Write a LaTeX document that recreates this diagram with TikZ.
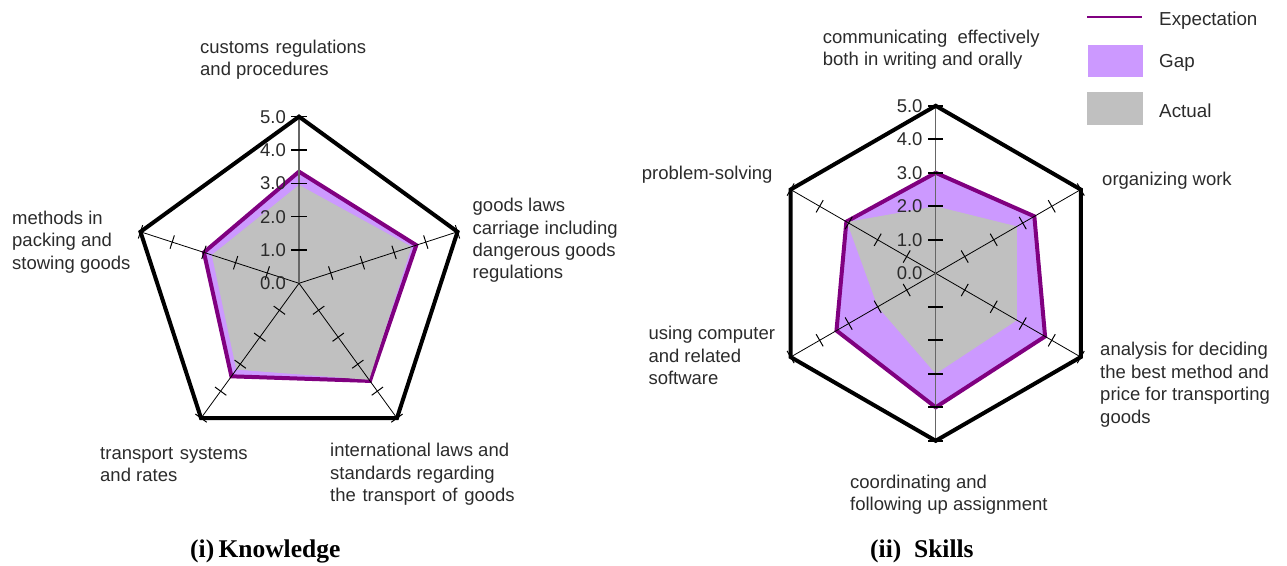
\documentclass[tikz,border=0pt]{standalone}
\usepackage{fontspec}
\setmainfont{Liberation Sans}
\newfontfamily\titlefont{Liberation Serif}
\definecolor{expline}{HTML}{800080}
\definecolor{gapfill}{HTML}{CC99FF}
\definecolor{actfill}{HTML}{C0C0C0}
\definecolor{labeltext}{HTML}{2B2B2B}

% left-aligned block of lines whose baseline is that of its first line
\newcommand\linesblock[1]{\begin{tabular}[t]{@{}l@{}}#1\end{tabular}}
% slightly widened word gap
\newcommand\wsp{\ \hspace{1.5pt}}

\tikzset{
  axislabel/.style={font=\fontsize{18.5}{22.4}\selectfont, text=labeltext,
    inner sep=0pt, anchor=base west},
  numlabel/.style={font=\fontsize{18.5}{18}\selectfont, text=labeltext,
    inner sep=0pt, anchor=east, xshift=-13pt},
  legendtext/.style={font=\fontsize{18.8}{20}\selectfont, text=labeltext,
    inner sep=0pt, anchor=west},
  charttitle/.style={font=\titlefont\bfseries\fontsize{25.5}{28}\selectfont,
    inner sep=0pt, anchor=west},
  outline/.style={draw=black, line width=4pt, line join=miter},
  spoke/.style={draw=black, line width=0.8pt},
  vaxis/.style={draw=black!60, line width=1.2pt},
  tickmark/.style={draw=black, line width=1pt},
  vtick/.style={draw=black, line width=1.6pt},
  expect/.style={draw=expline, line width=4pt, line join=miter, fill=gapfill},
  actual/.style={fill=actfill},
}

\begin{document}
\begin{tikzpicture}[x=1pt, y=1pt]
\useasboundingbox (0,0) rectangle (1287,565);

% ---------- (i) Knowledge: five-axis chart ----------
\begin{scope}[shift={(299,281.7)}, x=33.33pt, y=33.33pt]
  \draw[expect] (90:3.35) -- (18:3.7) -- (-54:3.62) -- (234:3.45) -- (162:3.0) -- cycle;
  \fill[actual] (90:2.95) -- (18:3.55) -- (-54:3.58) -- (234:3.2) -- (162:2.75) -- cycle;
  \foreach \a in {18,-54,234,162} {
    \draw[spoke] (0,0) -- (\a:5);
    \foreach \k in {1,...,5}
      \draw[tickmark, rotate=\a] (\k,-0.21) -- (\k,0.21);
  }
  \draw[vaxis] (0,0) -- (0,5);
  \foreach \k in {1,...,5}
    \draw[vtick] (-0.23,\k) -- (0.23,\k);
  \draw[outline] (90:5) -- (18:5) -- (-54:5) -- (234:5) -- (162:5) -- cycle;
  \foreach \k in {0,...,5}
    \node[numlabel] (kn\k) at (0,\k) {\k.0};
\end{scope}

\node[axislabel] (kcustoms) at (200,511.7) {\linesblock{customs\wsp regulations\\and procedures}};
\node[axislabel] (kgoods) at (472.5,353.3) {\linesblock{goods laws\\carriage including\\dangerous goods\\regulations}};
\node[axislabel] (kintl) at (330,108.3) {\linesblock{international laws and\\standards regarding\\the\wsp transport\wsp of\wsp goods}};
\node[axislabel] (ktransport) at (100,105.7) {\linesblock{transport\wsp systems\\and rates}};
\node[axislabel] (kmethods) at (12,340.7) {\linesblock{methods in\\packing and\\stowing goods}};
\node[charttitle] (ktitle) at (190,14) {(i)\,Knowledge};

% ---------- (ii) Skills: six-axis chart ----------
\begin{scope}[shift={(935.7,291.7)}, x=33.5pt, y=33.5pt]
  \draw[expect] (90:3.0) -- (30:3.4) -- (-30:3.77) -- (-90:4.0) -- (210:3.42) -- (150:3.08) -- cycle;
  \fill[actual] (90:2.0) -- (30:2.8) -- (-30:2.8) -- (-90:3.0) -- (210:2.0) -- (150:3.06) -- cycle;
  \foreach \a in {30,150} {
    \draw[spoke] (\a:5) -- (\a+180:5);
    \foreach \k in {1,...,5} {
      \draw[tickmark, rotate=\a] (\k,-0.21) -- (\k,0.21);
      \draw[tickmark, rotate=\a] (-\k,-0.21) -- (-\k,0.21);
    }
  }
  \draw[vaxis] (0,-5) -- (0,5);
  \foreach \k in {1,...,5} {
    \draw[vtick] (-0.23,\k) -- (0.23,\k);
    \draw[vtick] (-0.23,-\k) -- (0.23,-\k);
  }
  \draw[outline] (90:5) -- (30:5) -- (-30:5) -- (-90:5) -- (210:5) -- (150:5) -- cycle;
  \foreach \k in {0,...,5}
    \node[numlabel] (sn\k) at (0,\k) {\k.0};
\end{scope}

\node[axislabel] (scomm) at (822.7,521.7) {\linesblock{communicating\ \ effectively\\both in writing and orally}};
\node[axislabel] (sorg) at (1102,379) {organizing work};
\node[axislabel] (sanalysis) at (1100,209) {\linesblock{analysis for deciding\\the best method and\\price for transporting\\goods}};
\node[axislabel] (scoord) at (850,76.5) {\linesblock{coordinating and\\following up assignment}};
\node[axislabel] (scomputer) at (648.3,225) {\linesblock{using computer\\and related\\software}};
\node[axislabel] (sproblem) at (641.7,385) {problem-solving};
\node[charttitle] (stitle) at (870,14) {(ii)\ \ Skills};

% ---------- legend ----------
\coordinate (legA) at (1087,548);
\coordinate (legB) at (1142,548);
\draw[expline, line width=2.5pt] (legA) -- (legB);
\fill[gapfill] (1088,488) rectangle (1143,520);
\fill[actfill] (1087,440) rectangle (1143,473);
\node[legendtext] (lexp) at (1159,544) {Expectation};
\node[legendtext] (lgap) at (1159,502) {Gap};
\node[legendtext] (lact) at (1159,454) {Actual};
\end{tikzpicture}
\end{document}
